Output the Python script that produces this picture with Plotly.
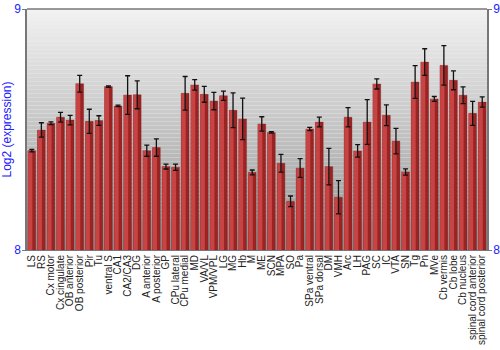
import plotly.graph_objects as go

categories = ["LS", "RS", "Cx motor", "Cx cingulate", "OB anterior", "OB posterior", "Pir", "Tu",
              "ventral S", "CA1", "CA2/CA3", "DG", "A anterior", "A posterior", "GP", "CPu lateral",
              "CPu medial", "MD", "VA/VL", "VPM/VPL", "LG", "MG", "Hb", "M", "ME", "SCN", "MPA", "SO",
              "Pa", "SPa ventral", "SPa dorsal", "DM", "VMH", "Arc", "LH", "PAG", "SC", "IC", "VTA",
              "SN", "Tg", "Pn", "MVe", "Cb vermis", "Cb lobe", "Cb nucleus",
              "spinal cord anterior", "spinal cord posterior"]
values = [8.412, 8.498, 8.526, 8.551, 8.539, 8.690, 8.534, 8.537,
          8.678, 8.598, 8.643, 8.644, 8.412, 8.425, 8.346, 8.343,
          8.650, 8.685, 8.646, 8.618, 8.640, 8.580, 8.544, 8.322, 8.523, 8.488, 8.360, 8.202,
          8.340, 8.502, 8.531, 8.346, 8.219, 8.551, 8.411, 8.531, 8.689, 8.559, 8.452,
          8.324, 8.697, 8.780, 8.627, 8.766, 8.704, 8.642,
          8.567, 8.614]
errors = [0.005, 0.030, 0.006, 0.020, 0.020, 0.035, 0.050, 0.020,
          0.003, 0.003, 0.080, 0.058, 0.023, 0.036, 0.010, 0.013,
          0.070, 0.022, 0.033, 0.036, 0.019, 0.072, 0.086, 0.010, 0.030, 0.003, 0.037, 0.022,
          0.039, 0.007, 0.020, 0.076, 0.069, 0.040, 0.026, 0.093, 0.021, 0.043, 0.053,
          0.013, 0.068, 0.055, 0.010, 0.082, 0.039, 0.035,
          0.050, 0.021]
y_ticks = [8, 9]

blue = "#2020ff"
font_family = "Arial, Liberation Sans, sans-serif"

fig = go.Figure()

# main (darker) bar
fig.add_trace(go.Bar(
    x=categories, y=[v - 8 for v in values], base=8,
    marker=dict(color="#9a2424", line=dict(color="rgba(120,20,20,0.6)", width=0.5)),
    width=0.82, hoverinfo="skip", showlegend=False,
))
# lighter highlight on the left portion of each bar
fig.add_trace(go.Bar(
    x=categories, y=[v - 8 for v in values], base=8,
    marker=dict(color="#c84444", line=dict(width=0)),
    width=0.45, offset=-0.39, hoverinfo="skip", showlegend=False,
))
# error bars
fig.add_trace(go.Scatter(
    x=categories, y=values, mode="markers",
    marker=dict(size=1, color="rgba(0,0,0,0)"),
    error_y=dict(type="data", array=errors, visible=True, color="#111111", thickness=1.3, width=2.5),
    hoverinfo="skip", showlegend=False,
))
# invisible trace for right axis
fig.add_trace(go.Scatter(x=[categories[0]], y=[8.5], yaxis="y2", mode="markers",
                         marker=dict(color="rgba(0,0,0,0)"), showlegend=False, hoverinfo="skip"))

# gradient background via strips
n = 60
shapes = []
for i in range(n):
    t = i / (n - 1)
    c = int(242 - (242 - 150) * t)
    shapes.append(dict(type="rect", xref="paper", yref="paper", x0=0, x1=1,
                       y0=1 - (i + 1) / n, y1=1 - i / n, layer="below",
                       fillcolor=f"rgb({c},{c},{c})", line=dict(width=0)))
shapes.append(dict(type="line", xref="paper", yref="paper", x0=0, x1=1, y0=1, y1=1,
                   line=dict(color="#777777", width=1.5)))

fig.update_layout(
    width=500, height=350,
    margin=dict(l=27, r=13, t=9, b=100),
    paper_bgcolor="white", plot_bgcolor="rgba(0,0,0,0)",
    barmode="overlay", bargap=0.15,
    shapes=shapes,
    font=dict(family=font_family, size=10, color="#222222"),
    xaxis=dict(tickangle=-90, tickfont=dict(size=10, color="#222222"), ticks="",
               tickmode="array", tickvals=categories, ticktext=categories, automargin=False,
               showgrid=False, showline=True, linecolor="#777777", linewidth=1,
               range=[-0.5, len(categories) - 0.5]),
    yaxis=dict(range=[8, 9], tickvals=y_ticks, ticktext=[str(t) for t in y_ticks],
               tickfont=dict(size=12, color=blue), ticks="outside", ticklen=3, automargin=False,
               ticklabelstandoff=-1,
               tickcolor="#777777", showgrid=False, zeroline=False,
               showline=True, linecolor="#777777", linewidth=1.5,
               title=dict(text="Log2 (expression)", font=dict(size=12, color=blue), standoff=2)),
    yaxis2=dict(range=[8, 9], tickvals=y_ticks, ticktext=[str(t) for t in y_ticks],
                overlaying="y", side="right", automargin=False,
                ticklabelstandoff=-1,
                tickfont=dict(size=12, color=blue), ticks="outside", ticklen=3,
                tickcolor="#777777", showgrid=False, zeroline=False,
                showline=True, linecolor="#777777", linewidth=1.5),
)

fig.write_html("out.html")
